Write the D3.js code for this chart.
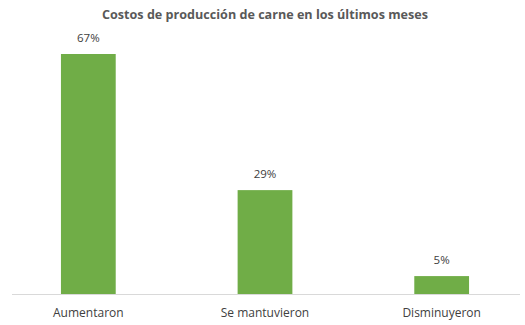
<!DOCTYPE html>
<html><head><meta charset="utf-8">
<script src="https://cdn.jsdelivr.net/npm/d3@7"></script>
<style>body{margin:0;background:#fff;}svg{display:block;}</style>
</head><body>
<script>
const title = "Costos de producción de carne en los últimos meses";
const categories = ["Aumentaron", "Se mantuvieron", "Disminuyeron"];
const values = [67, 29, 5];
const valueLabels = ["67%", "29%", "5%"];

const W = 525, H = 325;
const svg = d3.select("body").append("svg").attr("width", W).attr("height", H);
const font = "'Open Sans', 'Noto Sans', sans-serif";
const baseY = 294;

const x = d3.scaleBand().domain(categories).range([0, 530]).paddingInner(0.69).paddingOuter(0.345);
const y = d3.scaleLinear().domain([0, 67]).range([baseY, 54]);

svg.append("text").attr("x", 265).attr("y", 19).attr("text-anchor", "middle")
  .attr("font-family", font).attr("font-weight", "bold").attr("font-size", 12.6)
  .attr("fill", "#595959").text(title);

svg.selectAll("rect.bar").data(values).enter().append("rect").attr("class", "bar")
  .attr("x", (d, i) => x(categories[i])).attr("width", x.bandwidth())
  .attr("y", d => y(d)).attr("height", d => baseY - y(d)).attr("fill", "#70ad47");

svg.append("line").attr("x1", 12).attr("x2", 520).attr("y1", baseY + 0.5).attr("y2", baseY + 0.5)
  .attr("stroke", "#d9d9d9").attr("stroke-width", 1);

svg.selectAll("text.val").data(values).enter().append("text").attr("class", "val")
  .attr("x", (d, i) => x(categories[i]) + x.bandwidth() / 2).attr("y", d => y(d) - 12)
  .attr("text-anchor", "middle").attr("font-family", font).attr("font-size", 11.5)
  .attr("fill", "#404040").text((d, i) => valueLabels[i]);

svg.selectAll("text.cat").data(categories).enter().append("text").attr("class", "cat")
  .attr("x", d => x(d) + x.bandwidth() / 2).attr("y", 317)
  .attr("text-anchor", "middle").attr("font-family", font).attr("font-size", 12)
  .attr("fill", "#404040").text(d => d);
</script>
</body></html>
